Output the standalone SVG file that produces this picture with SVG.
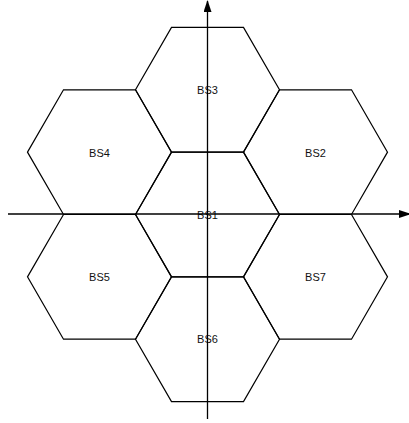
<svg xmlns="http://www.w3.org/2000/svg" width="409" height="423" viewBox="0 0 409 423">
<style>
.hex{fill:none;stroke:#000;stroke-width:1.2}
.lbl{font-family:"Liberation Sans",Arial,sans-serif;font-size:11px;fill:#111;text-anchor:middle;dominant-baseline:central}
.axis{stroke:#000;stroke-width:1.3;fill:none}
</style>
<defs>
<marker id="arr" markerWidth="12" markerHeight="8" refX="11" refY="4" orient="auto" markerUnits="userSpaceOnUse">
<path d="M0,0 L12,4 L0,8 Z" fill="#000"/>
</marker>
</defs>
<g id="BS1"><polygon class="hex" points="135.5,214.5 171.5,152.15 243.5,152.15 279.5,214.5 243.5,276.85 171.5,276.85"/><text class="lbl" x="207.5" y="214.5">BS1</text></g>
<g id="BS3"><polygon class="hex" points="135.5,89.8 171.5,27.45 243.5,27.45 279.5,89.8 243.5,152.15 171.5,152.15"/><text class="lbl" x="207.5" y="89.8">BS3</text></g>
<g id="BS6"><polygon class="hex" points="135.5,339.2 171.5,276.85 243.5,276.85 279.5,339.2 243.5,401.55 171.5,401.55"/><text class="lbl" x="207.5" y="339.2">BS6</text></g>
<g id="BS4"><polygon class="hex" points="27.5,152.15 63.5,89.8 135.5,89.8 171.5,152.15 135.5,214.5 63.5,214.5"/><text class="lbl" x="99.5" y="152.5">BS4</text></g>
<g id="BS2"><polygon class="hex" points="243.5,152.15 279.5,89.8 351.5,89.8 387.5,152.15 351.5,214.5 279.5,214.5"/><text class="lbl" x="315.5" y="152.5">BS2</text></g>
<g id="BS5"><polygon class="hex" points="27.5,276.85 63.5,214.5 135.5,214.5 171.5,276.85 135.5,339.2 63.5,339.2"/><text class="lbl" x="99.5" y="276.85">BS5</text></g>
<g id="BS7"><polygon class="hex" points="243.5,276.85 279.5,214.5 351.5,214.5 387.5,276.85 351.5,339.2 279.5,339.2"/><text class="lbl" x="315.5" y="276.85">BS7</text></g>
<g id="connectors">
<line class="axis" x1="8" y1="214" x2="410" y2="214" marker-end="url(#arr)"/>
<line class="axis" x1="207.5" y1="419" x2="207.5" y2="1" marker-end="url(#arr)"/>
</g>
</svg>
